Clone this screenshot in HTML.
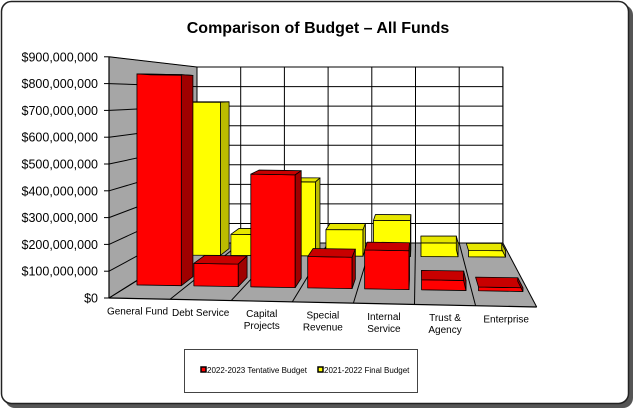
<!DOCTYPE html>
<html><head><meta charset="utf-8"><style>
body{margin:0;background:#fff}
svg{display:block;font-family:"Liberation Sans",Arial,sans-serif}
</style></head><body>
<svg id="chart" width="635" height="410" viewBox="0 0 635 410" xmlns="http://www.w3.org/2000/svg">
<rect x="5" y="5" width="628" height="403" rx="10" fill="#555"/>
<rect x="1.5" y="1.5" width="627" height="402" rx="10" fill="#fff" stroke="#222" stroke-width="1.5"/>
<text x="318" y="33" text-anchor="middle" font-size="16" font-weight="bold">Comparison of Budget – All Funds</text>
<g id="plot"></g>
<g>
<rect x="184.5" y="349.5" width="233" height="43" fill="#fff" stroke="#444"/>
<rect x="201" y="367" width="5" height="5" fill="#f00" stroke="#000" stroke-width="1.5"/>
<text x="207" y="373" font-size="8">2022-2023 Tentative Budget</text>
<rect x="318" y="367" width="5" height="5" fill="#ff0" stroke="#000" stroke-width="1.5"/>
<text x="324" y="373" font-size="8">2021-2022 Final Budget</text>
</g>
</svg>
<script>
const categories=[["General Fund"],["Debt Service"],["Capital","Projects"],["Special","Revenue"],["Internal","Service"],["Trust &","Agency"],["Enterprise"]];
const tentative2022=[842,90,450,125,155,40,15];
const final2021=[724,100,350,125,170,65,30];
const tickLabels=["$0","$100,000,000","$200,000,000","$300,000,000","$400,000,000","$500,000,000","$600,000,000","$700,000,000","$800,000,000","$900,000,000"];
const NS="http://www.w3.org/2000/svg";
const g=document.getElementById('plot');
function P(u,v,d){const xf=109+u*61.1,yf=298+u*9/7,xb=197+u*43.7,yb=243;const sf=26.8/100,sb=19.55/100;
 return [xf+(xb-xf)*d,(yf+(yb-yf)*d)-v*(sf+(sb-sf)*d)];}
function poly(pts,fill,name,sw){const p=document.createElementNS(NS,'polygon');p.setAttribute('points',pts.map(q=>q.join(',')).join(' '));p.setAttribute('fill',fill);p.setAttribute('stroke','#000');p.setAttribute('stroke-width',sw||0.8);p.setAttribute('stroke-linejoin','round');
 
 
 g.appendChild(p);return p;}
function line(a,b,name,w){const l=document.createElementNS(NS,'line');l.setAttribute('x1',a[0]);l.setAttribute('y1',a[1]);l.setAttribute('x2',b[0]);l.setAttribute('y2',b[1]);l.setAttribute('stroke','#000');l.setAttribute('stroke-width',w||1);
 
 
 g.appendChild(l);}
function text(x,y,s,anchor,size,name){const t=document.createElementNS(NS,'text');t.setAttribute('x',x);t.setAttribute('y',y);t.setAttribute('text-anchor',anchor);t.setAttribute('font-size',size);t.textContent=s;
 
 
 g.appendChild(t);}
const N=categories.length,vmax=(tickLabels.length-1)*100;
poly([P(0,0,0),P(0,vmax,0),P(0,vmax,1),P(0,0,1)],'#a6a6a6','left-wall',0.5);
poly([P(0,0,0),P(0,0,1),P(N,0,1),P(N,0,0)],'#a6a6a6','floor',0.5);
poly([P(0,0,1),P(0,vmax,1),P(N,vmax,1),P(N,0,1)],'#fff','back-wall',1);
for(let i=0;i<tickLabels.length;i++){const v=i*100;
 line(P(0,v,1),P(N,v,1),'gridline-h',1);
 line(P(0,v,0),P(0,v,1),'wall-gridline',1);
 const a=P(0,v,0);line([a[0]-5,a[1]],a,'y-tick',1);
 text(a[0]-11,a[1]+4.5,tickLabels[i],'end',12.5,'y-tick-label');}
for(let i=0;i<=N;i++){line(P(i,0,1),P(i,vmax,1),'gridline-v',1);line(P(i,0,0),P(i,0,1),'floor-divider',1);}
line(P(0,0,0),P(0,vmax,0),'y-axis',1.2);
line(P(0,0,0),P(N,0,0),'x-axis',1.2);
function bar(i,v,d0,d1,cf,ct,cs,name){const u0=i+0.12,u1=i+0.9;
 poly([P(u0,0,d0),P(u1,0,d0),P(u1,v,d0),P(u0,v,d0)],cf,name+'-front');
 poly([P(u0,v,d0),P(u1,v,d0),P(u1,v,d1),P(u0,v,d1)],ct,name+'-top');
 poly([P(u1,0,d0),P(u1,0,d1),P(u1,v,d1),P(u1,v,d0)],cs,name+'-side');}
for(let i=0;i<N;i++)bar(i,final2021[i],0.78,0.9,'#ffff00','#e6e600','#bcbc00','bar-2021-'+i);
for(let i=0;i<N;i++)bar(i,tentative2022[i],0.24,0.4,'#ff0000','#c80000','#a00000','bar-2022-'+i);
for(let i=0;i<N;i++){const p=P(i+0.5,0,0);categories[i].forEach((s,k)=>text(p[0]+(i==0?-2:0),p[1]+16+k*12,s,'middle',10,'x-label'));}
</script>
</body></html>
